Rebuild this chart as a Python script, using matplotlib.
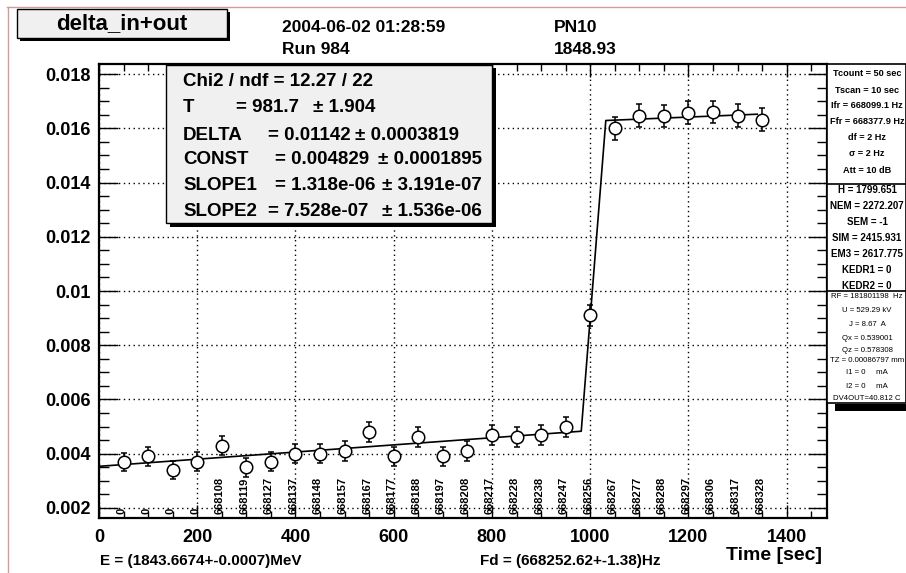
import numpy as np
import matplotlib
matplotlib.use("Agg")
import matplotlib.pyplot as plt
from matplotlib.patches import Rectangle
from matplotlib.lines import Line2D
from matplotlib.ticker import MultipleLocator, FuncFormatter

plt.rcParams['font.family'] = ['Liberation Sans', 'DejaVu Sans']
plt.rcParams['font.weight'] = 'bold'

# measured points
times = [50, 100, 150, 200, 250, 300, 350, 400, 450, 500, 550, 600, 650, 700,
         750, 800, 850, 900, 950, 1000, 1050, 1100, 1150, 1200, 1250, 1300, 1350]
delta = [0.0037, 0.0039, 0.0034, 0.0037, 0.0043, 0.0035, 0.0037, 0.0040, 0.0040,
         0.0041, 0.0048, 0.0039, 0.0046, 0.0039, 0.0041, 0.0047, 0.0046, 0.0047,
         0.0050, 0.0091, 0.0160, 0.01646, 0.01645, 0.01658, 0.0166, 0.01647, 0.01632]
errors = [0.00034, 0.00035, 0.00035, 0.00035, 0.00036, 0.00035, 0.00035, 0.00036,
          0.00036, 0.00036, 0.00037, 0.00036, 0.00037, 0.00036, 0.00036, 0.00037,
          0.00037, 0.00037, 0.00037, 0.0004, 0.00042, 0.00042, 0.00042, 0.00042,
          0.00042, 0.00042, 0.00042]
freq_labels = ['0', '0', '0', '0', '668108', '668119', '668127', '668137', '668148',
               '668157', '668167', '668177', '668188', '668197', '668208', '668217',
               '668228', '668238', '668247', '668256', '668267', '668277', '668288',
               '668297', '668306', '668317', '668328']

# fit result
T = 981.7
DELTA = 0.01142
CONST = 0.004829
SLOPE1 = 1.318e-06
SLOPE2 = 7.528e-07
TCOUNT = 50
fit_end = 1340

stats_names = ['T', 'DELTA', 'CONST', 'SLOPE1', 'SLOPE2']
stats_vals = ['= 981.7', '= 0.01142', '= 0.004829', '= 1.318e-06', '= 7.528e-07']
stats_errs = ['\u00b1 1.904', '\u00b1 0.0003819', '\u00b1 0.0001895', '\u00b1 3.191e-07', '\u00b1 1.536e-06']

panel1 = ['Tcount = 50 sec', 'Tscan = 10 sec', 'Ifr = 668099.1 Hz', 'Ffr = 668377.9 Hz',
          'df = 2 Hz', '\u03c3 = 2 Hz', 'Att = 10 dB']
panel2 = ['H = 1799.651', 'NEM = 2272.207', 'SEM = -1', 'SIM = 2415.931',
          'EM3 = 2617.775', 'KEDR1 = 0', 'KEDR2 = 0']
panel3 = ['RF = 181801198  Hz', 'U = 529.29 kV', 'J = 8.67  A', 'Qx = 0.539001',
          'Qz = 0.578308', 'TZ = 0.00086797 mm', 'I1 = 0     mA', 'I2 = 0     mA',
          'DV4OUT=40.812 C']

W, H = 906, 573


def fx(x):
    return x / W


def fy(y):
    return 1 - y / H


def model(x):
    x = np.asarray(x, dtype=float)
    low = CONST + SLOPE1 * (x - T)
    high = CONST + DELTA + SLOPE2 * (x - T)
    ramp = np.clip((x - T) / TCOUNT, 0, 1)
    return np.where(x < T, low, np.where(x > T + TCOUNT, high, low + ramp * (high - low)))


fig = plt.figure(figsize=(W / 100, H / 100), dpi=100)
ax = fig.add_axes([fx(99), fy(518), fx(827) - fx(99), fy(64) - fy(518)])

# fit line
fit_x = np.array([0, T, T + TCOUNT, fit_end])
ax.plot(fit_x, model(fit_x), color='black', lw=1.2, zorder=3)

ax.errorbar(times, delta, yerr=errors, fmt='o', ms=9, mfc='white', mec='black',
            mew=1.1, ecolor='black', elinewidth=1.1, capsize=2.5, capthick=1.1, zorder=4)

ax.set_xlim(0, 1482)
ax.set_ylim(0.00163, 0.01837)
ax.xaxis.set_major_locator(MultipleLocator(200))
ax.xaxis.set_minor_locator(MultipleLocator(50))
ax.yaxis.set_major_locator(MultipleLocator(0.002))
ax.yaxis.set_minor_locator(MultipleLocator(0.0005))
ax.yaxis.set_major_formatter(FuncFormatter(lambda v, p: f"{v:g}"))
ax.tick_params(axis='both', which='both', direction='in', top=True, right=True,
               width=1, labelsize=13)
ax.tick_params(axis='y', which='major', length=14, pad=6)
ax.tick_params(axis='y', which='minor', length=7)
ax.tick_params(axis='x', which='major', length=9.5, pad=8)
ax.tick_params(axis='x', which='minor', length=5)
for lab in ax.get_xticklabels() + ax.get_yticklabels():
    lab.set_fontweight('bold')
ax.grid(True, which='major', color='black', linestyle=(0, (1, 2.5)), lw=1)
for s in ax.spines.values():
    s.set_linewidth(1.6)

# frequency labels along the bottom
trans = ax.get_xaxis_transform()
for t, lab in zip(times, freq_labels):
    ax.text(t - 4, 0.008, lab, rotation=90, ha='center', va='bottom', fontsize=8,
            fontweight='bold', transform=trans, zorder=2)

# outer border
fig.add_artist(Line2D([fx(7), 1], [fy(7), fy(7)], color='#d49a9a', lw=1))
fig.add_artist(Line2D([fx(8), fx(8)], [fy(7), 0], color='#d49a9a', lw=1))

# title box
fig.add_artist(Rectangle((fx(20), fy(41)), fx(230) - fx(20), fy(12) - fy(41),
                         facecolor='black', edgecolor='none', zorder=5))
fig.add_artist(Rectangle((fx(17), fy(38)), fx(227) - fx(17), fy(9) - fy(38),
                         facecolor='#f0f0f0', edgecolor='black', lw=1, zorder=6))
fig.text(fx(122), fy(24), 'delta_in+out', ha='center', va='center', fontsize=16,
         fontweight='bold', zorder=7)

# header
fig.text(fx(282), fy(27), '2004-06-02 01:28:59', ha='left', va='center', fontsize=12.5, fontweight='bold')
fig.text(fx(282), fy(49), 'Run 984', ha='left', va='center', fontsize=12.5, fontweight='bold')
fig.text(fx(554), fy(27), 'PN10', ha='left', va='center', fontsize=12.5, fontweight='bold')
fig.text(fx(554), fy(49), '1848.93', ha='left', va='center', fontsize=12.5, fontweight='bold')

# stats box
fig.add_artist(Rectangle((fx(170), fy(227)), fx(496) - fx(170), fy(68) - fy(227),
                         facecolor='black', edgecolor='none', zorder=5))
fig.add_artist(Rectangle((fx(166), fy(223)), fx(492) - fx(166), fy(65) - fy(223),
                         facecolor='#f0f0f0', edgecolor='black', lw=1, zorder=6))
row_y = [82, 108, 135, 160, 186, 212]
fig.text(fx(183), fy(row_y[0]), 'Chi2 / ndf = 12.27 / 22', va='center', fontsize=13.5,
         fontweight='bold', zorder=7)
eq_x = [236, 268, 275, 275, 268]
pm_x = [313, 355, 378, 382, 382]
for i in range(len(stats_names)):
    y = fy(row_y[i + 1])
    fig.text(fx(183), y, stats_names[i], va='center', fontsize=13.5, fontweight='bold', zorder=7)
    fig.text(fx(eq_x[i]), y, stats_vals[i], va='center', fontsize=13.5, fontweight='bold', zorder=7)
    fig.text(fx(pm_x[i]), y, stats_errs[i], va='center', fontsize=13.5, fontweight='bold', zorder=7)

# right info panel
fig.add_artist(Rectangle((fx(835), fy(411)), 1 - fx(835), fy(404) - fy(411),
                         facecolor='black', edgecolor='none', zorder=5))
fig.add_artist(Rectangle((fx(827), fy(403)), fx(906) - fx(827), fy(64) - fy(403),
                         facecolor='white', edgecolor='black', lw=1.2, zorder=6))
for ys in [184, 291]:
    fig.add_artist(Line2D([fx(827), 1], [fy(ys), fy(ys)], color='black', lw=1.2, zorder=7))
cx = fx(867)
for lab, y in zip(panel1, [73, 90, 106, 122, 138, 154, 170]):
    fig.text(cx, fy(y), lab, ha='center', va='center', fontsize=6.6, fontweight='bold', zorder=8)
for lab, y in zip(panel2, [190, 206, 222, 238, 254, 270, 286]):
    fig.text(cx, fy(y), lab, ha='center', va='center', fontsize=7, fontweight='bold', zorder=8)
for lab, y in zip(panel3, [297, 311, 324, 338, 350, 361, 373, 386, 399]):
    fig.text(cx, fy(y), lab, ha='center', va='center', fontsize=5.6, fontweight='normal', zorder=8)

# bottom texts
fig.text(fx(100), fy(561), 'E = (1843.6674+-0.0007)MeV', va='center', fontsize=11, fontweight='bold')
fig.text(fx(480), fy(561), 'Fd = (668252.62+-1.38)Hz', va='center', fontsize=11, fontweight='bold')
fig.text(fx(822), fy(555), 'Time [sec]', ha='right', va='center', fontsize=14, fontweight='bold')

fig.savefig('out.png', dpi=100)
